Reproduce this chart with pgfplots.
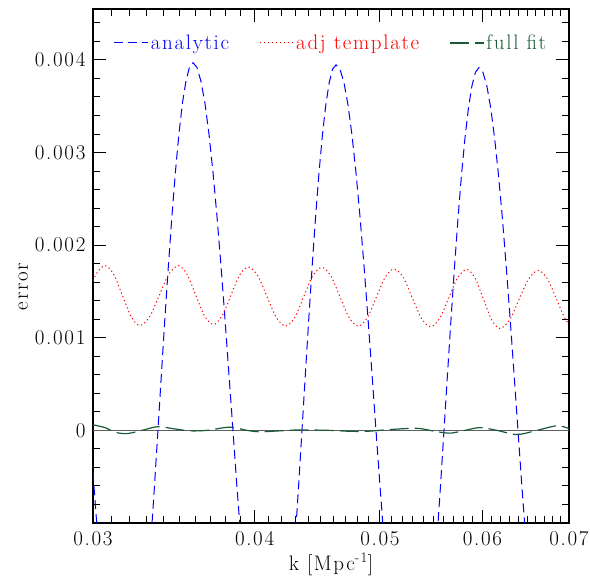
\documentclass[border=0pt]{standalone}
\usepackage{fontspec}
\setmainfont{Latin Modern Roman}[LetterSpace=8]
\usepackage{pgfplots}
\pgfplotsset{compat=1.18}

\definecolor{fitgreen}{RGB}{25,90,55}
\definecolor{zerogray}{RGB}{95,95,95}

\begin{document}
\begin{tikzpicture}
\path[use as bounding box] (-93pt,-55pt) rectangle (497pt,523pt);
\begin{axis}[
    at={(0pt,0pt)}, anchor=south west,
    scale only axis,
    width=476pt, height=514pt,
    xmode=log,
    xmin=0.03, xmax=0.07,
    ymin=-0.001, ymax=0.00455,
    xtick={0.03,0.04,0.05,0.06,0.07},
    xticklabels={0.03,0.04,0.05,0.06,0.07},
    minor xtick={0.031,0.032,0.033,0.034,0.035,0.036,0.037,0.038,0.039,
                 0.041,0.042,0.043,0.044,0.045,0.046,0.047,0.048,0.049,
                 0.051,0.052,0.053,0.054,0.055,0.056,0.057,0.058,0.059,
                 0.061,0.062,0.063,0.064,0.065,0.066,0.067,0.068,0.069},
    ytick={0,0.001,0.002,0.003,0.004},
    yticklabels={0,0.001,0.002,0.003,0.004},
    minor ytick={-0.0008,-0.0006,-0.0004,-0.0002,0.0002,0.0004,0.0006,0.0008,
                 0.0012,0.0014,0.0016,0.0018,0.0022,0.0024,0.0026,0.0028,
                 0.0032,0.0034,0.0036,0.0038,0.0042,0.0044},
    scaled y ticks=false,
    tick align=inside,
    major tick length=13pt,
    minor tick length=7pt,
    every tick/.style={black, line width=1pt},
    axis line style={line width=1.5pt},
    tick label style={font=\fontsize{21}{24}\selectfont},
    yticklabel style={xshift=-4pt},
    xticklabel style={yshift=-5pt},
    label style={font=\fontsize{21}{24}\selectfont},
    xlabel={k [Mpc\textsuperscript{-1}]},
    ylabel={error},
    ylabel style={at={(ticklabel cs:0.46)}},
    legend style={at={(0.5,0.934)}, anchor=center, draw=none, fill=none,
        font=\fontsize{21}{24}\selectfont,
        /tikz/every even column/.append style={column sep=28pt}},
    legend columns=3,
    legend image code/.code={\draw[#1] (0pt,0pt) -- (34pt,0pt);},
  ]

  % zero line
  \addplot[zerogray, line width=1.2pt, forget plot] coordinates {(0.03,0) (0.07,0)};

  % analytic
  \addplot[blue, line width=1pt, dash pattern=on 9pt off 5pt] coordinates {
    (0.029418,0.001207) (0.029629,0.000611) (0.029840,0.0) (0.030053,-0.000600)
    (0.030268,-0.001180) (0.030702,-0.002220) (0.031758,-0.003500)
    (0.032851,-0.002220) (0.033263,-0.001180) (0.033471,-0.000600) (0.033680,0.0)
    (0.033890,0.000614) (0.034102,0.001213) (0.034315,0.001787) (0.034530,0.002320)
    (0.034745,0.002795) (0.034963,0.003203) (0.035181,0.003532) (0.035401,0.003773)
    (0.035622,0.003921) (0.035845,0.003970) (0.036101,0.003921) (0.036359,0.003773)
    (0.036619,0.003532) (0.036880,0.003203) (0.037144,0.002795) (0.037409,0.002320)
    (0.037676,0.001787) (0.037946,0.001213) (0.038217,0.000614) (0.038490,0.0)
    (0.038765,-0.000600) (0.039042,-0.001180) (0.039602,-0.002220) (0.040964,-0.003500)
    (0.042479,-0.002220) (0.042996,-0.001180) (0.043257,-0.000600) (0.043520,0.0)
    (0.043784,0.000611) (0.044050,0.001207) (0.044318,0.001778) (0.044586,0.002308)
    (0.044857,0.002781) (0.045129,0.003187) (0.045403,0.003514) (0.045679,0.003754)
    (0.045956,0.003901) (0.046235,0.003946) (0.046565,0.003901) (0.046898,0.003754)
    (0.047233,0.003514) (0.047571,0.003187) (0.047911,0.002781) (0.048253,0.002308)
    (0.048598,0.001778) (0.048945,0.001207) (0.049295,0.000611) (0.049647,0.0)
    (0.050002,-0.000600) (0.050359,-0.001180) (0.051081,-0.002220) (0.052836,-0.003500)
    (0.054656,-0.002200) (0.055341,-0.001170) (0.055687,-0.000600) (0.056035,0.0)
    (0.056385,0.000606) (0.056738,0.001197) (0.057092,0.001763) (0.057449,0.002289)
    (0.057808,0.002758) (0.058169,0.003160) (0.058533,0.003485) (0.058899,0.003723)
    (0.059267,0.003868) (0.059637,0.003917) (0.060053,0.003868) (0.060471,0.003723)
    (0.060892,0.003485) (0.061316,0.003160) (0.061743,0.002758) (0.062174,0.002289)
    (0.062606,0.001763) (0.063043,0.001197) (0.063482,0.000606) (0.063924,0.0)
    (0.064369,-0.000600) (0.064818,-0.001170) (0.065724,-0.002200) (0.068886,-0.003500)
    (0.070750,-0.003300)
  };
  \addlegendentry[text=blue]{analytic}

  % adj template
  \addplot[red, line width=1pt, dash pattern=on 1.2pt off 2.8pt, smooth] coordinates {
    (0.028745,0.001130) (0.029210,0.001225) (0.029681,0.0014545) (0.030161,0.001684)
    (0.030648,0.001779) (0.031129,0.001684) (0.031617,0.0014555) (0.032114,0.001227)
    (0.032618,0.001132) (0.033180,0.001227) (0.033752,0.0014555) (0.034328,0.001684)
    (0.034919,0.001779) (0.035467,0.001686) (0.036024,0.001461) (0.036590,0.001236)
    (0.037164,0.001143) (0.037747,0.001234) (0.038340,0.001454) (0.038942,0.001674)
    (0.039553,0.001765) (0.040217,0.001671) (0.040892,0.001445) (0.041578,0.001219)
    (0.042275,0.001125) (0.042958,0.001218) (0.043652,0.001443) (0.044357,0.001668)
    (0.045073,0.001761) (0.045813,0.001668) (0.046565,0.001443) (0.047330,0.001218)
    (0.048107,0.001125) (0.048875,0.001215) (0.049660,0.001434) (0.050458,0.001652)
    (0.051263,0.001743) (0.052110,0.001652) (0.052965,0.0014305) (0.053835,0.001209)
    (0.054724,0.001118) (0.055608,0.001209) (0.056507,0.0014285) (0.057418,0.001648)
    (0.058346,0.001739) (0.059214,0.001645) (0.060101,0.0014195) (0.061000,0.001194)
    (0.061909,0.001100) (0.062975,0.001192) (0.064055,0.001414) (0.065153,0.001636)
    (0.066276,0.001728) (0.067370,0.001636) (0.068477,0.001414) (0.069601,0.001192)
    (0.070750,0.001100)
  };
  \addlegendentry[text=red]{adj template}

  % full fit
  \addplot[fitgreen, line width=1.2pt, dash pattern=on 19pt off 6pt, smooth] coordinates {
    (0.030000,0.00006) (0.030648,0.00003) (0.031198,-0.00002) (0.031872,-0.000035)
    (0.032734,0.0) (0.033680,0.00004) (0.034715,0.000015) (0.035654,-0.000005)
    (0.036749,0.0) (0.038285,0.000035) (0.039461,0.0) (0.040385,-0.000015)
    (0.041849,-0.000005) (0.043365,0.000005) (0.045744,0.0) (0.047402,-0.00001)
    (0.048858,-0.00001) (0.050449,0.000005) (0.052463,0.00002) (0.053692,0.00002)
    (0.055145,-0.00001) (0.056637,-0.00003) (0.058169,0.0) (0.059744,0.00003)
    (0.061580,0.0) (0.063810,-0.000045) (0.066123,0.0) (0.068519,0.00005)
    (0.070000,0.00002)
  };
  \addlegendentry[text=fitgreen]{full fit}

\end{axis}
\end{tikzpicture}
\end{document}
